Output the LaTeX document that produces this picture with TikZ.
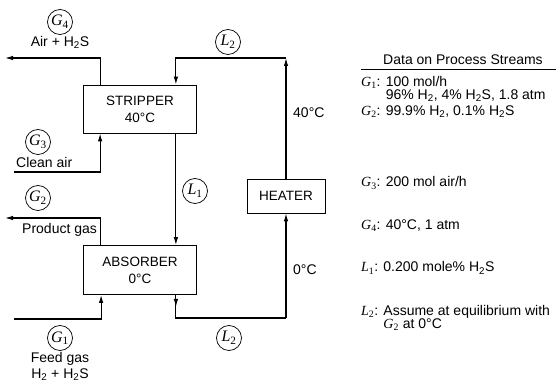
\documentclass[tikz,border=0pt]{standalone}
\usepackage{fontspec}
\setmainfont{Liberation Sans}
\newfontfamily\pfserif{Liberation Serif}
\usepackage{tikz}
\usetikzlibrary{arrows.meta,positioning}
\newcommand{\pfvar}[2]{{\pfserif\itshape #1}{\pfserif\textsubscript{#2}}}

\begin{document}
\begin{tikzpicture}[x=1pt,y=-1pt,
    pfbox/.style={draw=black,line width=0.8pt,align=center,
        font=\fontsize{13.5}{17}\selectfont,inner sep=0pt},
    pftag/.style={circle,draw=black,line width=0.7pt,minimum size=25pt,
        inner sep=0pt,font=\fontsize{16}{16}\selectfont},
    pfline/.style={draw=black,line width=1.1pt},
    pfarrow/.style={pfline,-{Latex[length=8pt,width=4.5pt]}},
    pflabel/.style={font=\fontsize{14}{16}\selectfont,inner sep=1pt,align=center},
    pfdata/.style={font=\fontsize{14}{12.5}\selectfont,inner sep=0pt,anchor=west,align=left}
]
\useasboundingbox (0,0) rectangle (558,385);
% units
\node[pfbox,minimum width=113pt,minimum height=48pt] (stripper) at (140,109)
    {STRIPPER\\40\textdegree C};
\node[pfbox,minimum width=113pt,minimum height=49pt] (absorber) at (140,270)
    {ABSORBER\\0\textdegree C};
\node[pfbox,minimum width=78pt,minimum height=34pt] (heater) at (286,196)
    {HEATER};
% stream tags
\node[pftag] (g4tag) at (60,22) {\pfvar{G}{4}};
\node[pflabel,below=0pt of g4tag] (g4text) {Air + H\textsubscript{2}S};
\node[pftag] (g3tag) at (38,142) {\pfvar{G}{3}};
\node[pflabel,anchor=west] (g3text) at (15,162) {Clean air};
\node[pftag] (g2tag) at (38,198) {\pfvar{G}{2}};
\node[pflabel,anchor=west] (g2text) at (21,230) {Product gas};
\node[pftag] (g1tag) at (60,338) {\pfvar{G}{1}};
\node[pflabel,below=0pt of g1tag] (g1text) {Feed gas\\H\textsubscript{2} + H\textsubscript{2}S};
\node[pftag] (l1tag) at (195,191) {\pfvar{L}{1}};
\node[pftag] (l2top) at (228,42) {\pfvar{L}{2}};
\node[pftag] (l2low) at (229,338) {\pfvar{L}{2}};
\node[pflabel,anchor=west] (hot) at (292,113) {40\textdegree C};
\node[pflabel,anchor=west] (cold) at (292,270) {0\textdegree C};
% corners of the piping
\coordinate (g4end) at (5,58);
\coordinate (g2end) at (5,218);
\coordinate (g3start) at (14,172);
\coordinate (g1start) at (14,319);
\coordinate (topcorner) at (286,58);
\coordinate (lowcorner) at (286,318);
\draw[pfarrow] ([xshift=17pt]stripper.north west) |- (g4end);
\draw[pfarrow] (g3start) -| ([xshift=17pt]stripper.south west);
\draw[pfarrow] ([xshift=-21pt]stripper.south east) -- ([xshift=-21pt]absorber.north east);
\draw[pfarrow] ([xshift=17pt]absorber.north west) |- (g2end);
\draw[pfarrow] (g1start) -| ([xshift=18pt]absorber.south west);
\draw[pfline] ([xshift=-21pt]absorber.south east) |- (lowcorner);
\draw[pfarrow] ([xshift=-21pt]absorber.south east) -- ++(0,12);
\draw[pfarrow] (lowcorner) -- (heater.south);
\draw[pfarrow] (heater.north) -- (topcorner);
\draw[pfarrow] (topcorner) -| ([xshift=-21pt]stripper.north east);
% data table
\node[pflabel] (title) at (463,60) {Data on Process Streams};
\draw[line width=0.8pt] (361,69) -- (556,69);
\node[pfdata] (d1) at (361,89) {\pfvar{G}{1}: 100 mol/h\\\hphantom{\pfvar{G}{1}: }96\% H\textsubscript{2}, 4\% H\textsubscript{2}S, 1.8 atm};
\node[pfdata] (d2) at (361,112) {\pfvar{G}{2}: 99.9\% H\textsubscript{2}, 0.1\% H\textsubscript{2}S};
\node[pfdata] (d3) at (361,183) {\pfvar{G}{3}: 200 mol air/h};
\node[pfdata] (d4) at (361,226) {\pfvar{G}{4}: 40\textdegree C, 1 atm};
\node[pfdata] (d5) at (361,268) {\pfvar{L}{1}: 0.200 mole\% H\textsubscript{2}S};
\node[pfdata] (d6) at (361,318) {\pfvar{L}{2}: Assume at equilibrium with\\\hphantom{\pfvar{L}{2}: }\pfvar{G}{2} at 0\textdegree C};
\end{tikzpicture}
\end{document}
